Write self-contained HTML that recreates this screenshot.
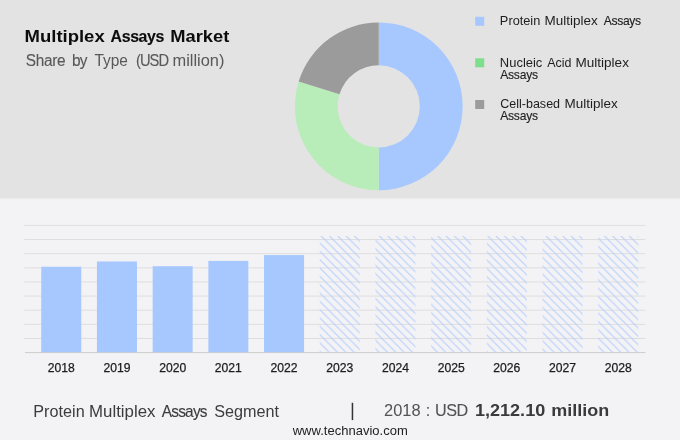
<!DOCTYPE html>
<html><head><meta charset="utf-8"><title>Multiplex Assays Market</title>
<style>
html,body{margin:0;padding:0;}
body{width:680px;height:440px;overflow:hidden;background:#f3f3f5;font-family:"Liberation Sans",sans-serif;position:relative;}
#top{position:absolute;left:0;top:0;width:680px;height:198px;background:#e3e3e3;}
svg{position:absolute;left:0;top:0;will-change:transform;}
svg text{font-family:"Liberation Sans",sans-serif;}
</style></head><body>
<div id="top"></div>
<svg width="680" height="440" viewBox="0 0 680 440">
<defs>
<pattern id="hatch" width="8.33" height="8.33" patternUnits="userSpaceOnUse" patternTransform="translate(321.2,236)">
<path d="M-2.083,-2.083 L10.412,10.412 M-2.083,6.248 L2.083,10.412 M6.248,-2.083 L10.412,2.083" stroke="#b6cefb" stroke-width="1.1" fill="none"/>
</pattern>
</defs>
<rect x="0" y="0" width="680" height="198.5" fill="#e3e3e3"/>
<path d="M378.75,22.45 A83.9,83.9 0 0 1 378.75,190.25 L378.75,147.45 A41.1,41.1 0 0 0 378.75,65.25 Z" fill="#a6c8ff"/>
<path d="M378.75,190.25 A83.9,83.9 0 0 1 298.65,81.40 L339.51,94.13 A41.1,41.1 0 0 0 378.75,147.45 Z" fill="#b8edb9"/>
<path d="M298.65,81.40 A83.9,83.9 0 0 1 378.75,22.45 L378.75,65.25 A41.1,41.1 0 0 0 339.51,94.13 Z" fill="#9b9b9b"/>
<rect x="24.3" y="224.90" width="621.2" height="1" fill="#dedede"/>
<rect x="24.3" y="239.03" width="621.2" height="1" fill="#dedede"/>
<rect x="24.3" y="253.17" width="621.2" height="1" fill="#dedede"/>
<rect x="24.3" y="267.30" width="621.2" height="1" fill="#dedede"/>
<rect x="24.3" y="281.43" width="621.2" height="1" fill="#dedede"/>
<rect x="24.3" y="295.57" width="621.2" height="1" fill="#dedede"/>
<rect x="24.3" y="309.70" width="621.2" height="1" fill="#dedede"/>
<rect x="24.3" y="323.83" width="621.2" height="1" fill="#dedede"/>
<rect x="24.3" y="337.97" width="621.2" height="1" fill="#dedede"/>
<rect x="25" y="352.10" width="620.5" height="1" fill="#cdcdcd"/>
<rect x="41.25" y="266.75" width="40" height="85.45" fill="#a6c8ff"/>
<rect x="96.95" y="261.50" width="40" height="90.70" fill="#a6c8ff"/>
<rect x="152.65" y="266.20" width="40" height="86.00" fill="#a6c8ff"/>
<rect x="208.35" y="260.90" width="40" height="91.30" fill="#a6c8ff"/>
<rect x="264.05" y="255.10" width="40" height="97.10" fill="#a6c8ff"/>
<rect x="319.75" y="236" width="40" height="116.20" fill="url(#hatch)"/>
<rect x="375.45" y="236" width="40" height="116.20" fill="url(#hatch)"/>
<rect x="431.15" y="236" width="40" height="116.20" fill="url(#hatch)"/>
<rect x="486.85" y="236" width="40" height="116.20" fill="url(#hatch)"/>
<rect x="542.55" y="236" width="40" height="116.20" fill="url(#hatch)"/>
<rect x="598.25" y="236" width="40" height="116.20" fill="url(#hatch)"/>
<text x="61.25" y="372.1" text-anchor="middle" font-size="12.15" fill="#1c1c1c" stroke="#1c1c1c" stroke-width="0.25">2018</text>
<text x="116.95" y="372.1" text-anchor="middle" font-size="12.15" fill="#1c1c1c" stroke="#1c1c1c" stroke-width="0.25">2019</text>
<text x="172.65" y="372.1" text-anchor="middle" font-size="12.15" fill="#1c1c1c" stroke="#1c1c1c" stroke-width="0.25">2020</text>
<text x="228.35" y="372.1" text-anchor="middle" font-size="12.15" fill="#1c1c1c" stroke="#1c1c1c" stroke-width="0.25">2021</text>
<text x="284.05" y="372.1" text-anchor="middle" font-size="12.15" fill="#1c1c1c" stroke="#1c1c1c" stroke-width="0.25">2022</text>
<text x="339.75" y="372.1" text-anchor="middle" font-size="12.15" fill="#1c1c1c" stroke="#1c1c1c" stroke-width="0.25">2023</text>
<text x="395.45" y="372.1" text-anchor="middle" font-size="12.15" fill="#1c1c1c" stroke="#1c1c1c" stroke-width="0.25">2024</text>
<text x="451.15" y="372.1" text-anchor="middle" font-size="12.15" fill="#1c1c1c" stroke="#1c1c1c" stroke-width="0.25">2025</text>
<text x="506.85" y="372.1" text-anchor="middle" font-size="12.15" fill="#1c1c1c" stroke="#1c1c1c" stroke-width="0.25">2026</text>
<text x="562.55" y="372.1" text-anchor="middle" font-size="12.15" fill="#1c1c1c" stroke="#1c1c1c" stroke-width="0.25">2027</text>
<text x="618.25" y="372.1" text-anchor="middle" font-size="12.15" fill="#1c1c1c" stroke="#1c1c1c" stroke-width="0.25">2028</text>
<rect x="475.2" y="16.8" width="9" height="9" fill="#a6c8ff"/>
<rect x="475.2" y="58.3" width="9" height="9" fill="#7ddf8c"/>
<rect x="475.2" y="100" width="9" height="9" fill="#9b9b9b"/>
<rect x="351.7" y="402.8" width="1.5" height="17.3" fill="#333"/>
<text transform="matrix(1.1353 0 0 1 24.56 41.5)" font-size="16.3" font-weight="bold" fill="#0c0c0c">Multiplex</text>
<text transform="matrix(0.9750 0 0 1 110.60 41.5)" font-size="16.3" font-weight="bold" letter-spacing="-0.380" stroke="#0c0c0c" stroke-width="0.12" fill="#0c0c0c">Assays</text>
<text transform="matrix(1.1236 0 0 1 170.28 41.5)" font-size="16.3" font-weight="bold" fill="#0c0c0c">Market</text>
<text transform="matrix(0.9750 0 0 1 25.70 66.1)" font-size="15.8" letter-spacing="-0.310" stroke="#585858" stroke-width="0.12" fill="#585858">Share</text>
<text transform="matrix(0.9750 0 0 1 71.93 66.1)" font-size="15.8" letter-spacing="-0.811" stroke="#585858" stroke-width="0.12" fill="#585858">by</text>
<text transform="matrix(0.9779 0 0 1 94.40 66.1)" font-size="15.8" fill="#585858">Type</text>
<text transform="matrix(0.9309 0 0 1 136.00 66.1)" font-size="15.8" letter-spacing="-1.026" stroke="#585858" stroke-width="0.12" fill="#585858">(USD</text>
<text transform="matrix(1.0396 0 0 1 172.46 66.1)" font-size="15.8" fill="#585858">million)</text>
<text transform="matrix(1.0295 0 0 1 499.87 24.6)" font-size="12.4" fill="#1e1e1e">Protein</text>
<text transform="matrix(1.0863 0 0 1 544.51 24.6)" font-size="12.4" fill="#1e1e1e">Multiplex</text>
<text transform="matrix(0.9750 0 0 1 603.70 24.6)" font-size="12.4" letter-spacing="-0.318" stroke="#1e1e1e" stroke-width="0.12" fill="#1e1e1e">Assays</text>
<text transform="matrix(1.0449 0 0 1 499.86 66.5)" font-size="12.4" fill="#1e1e1e">Nucleic</text>
<text transform="matrix(1.0036 0 0 1 547.20 66.5)" font-size="12.4" fill="#1e1e1e">Acid</text>
<text transform="matrix(1.0925 0 0 1 575.51 66.5)" font-size="12.4" fill="#1e1e1e">Multiplex</text>
<text transform="matrix(0.9750 0 0 1 500.20 78.7)" font-size="12.4" letter-spacing="-0.235" stroke="#1e1e1e" stroke-width="0.12" fill="#1e1e1e">Assays</text>
<text transform="matrix(1.0111 0 0 1 500.20 108.1)" font-size="12.4" fill="#1e1e1e">Cell-based</text>
<text transform="matrix(1.0863 0 0 1 564.51 108.1)" font-size="12.4" fill="#1e1e1e">Multiplex</text>
<text transform="matrix(0.9750 0 0 1 500.20 120.3)" font-size="12.4" letter-spacing="-0.235" stroke="#1e1e1e" stroke-width="0.12" fill="#1e1e1e">Assays</text>
<text transform="matrix(1.0144 0 0 1 33.29 416.5)" font-size="16.0" fill="#3c3c3c">Protein</text>
<text transform="matrix(1.0526 0 0 1 89.05 416.5)" font-size="16.0" fill="#3c3c3c">Multiplex</text>
<text transform="matrix(0.9650 0 0 1 161.70 416.5)" font-size="16.0" letter-spacing="-0.802" stroke="#3c3c3c" stroke-width="0.12" fill="#3c3c3c">Assays</text>
<text transform="matrix(1.0125 0 0 1 214.30 416.5)" font-size="16.0" fill="#3c3c3c">Segment</text>
<text transform="matrix(0.9895 0 0 1 384.00 416.4)" font-size="16.6" fill="#525252">2018</text>
<text transform="matrix(0.9667 0 0 1 425.63 416.4)" font-size="16.6" fill="#525252">:</text>
<text transform="matrix(0.9750 0 0 1 435.02 416.4)" font-size="16.6" letter-spacing="-0.564" stroke="#525252" stroke-width="0.12" fill="#525252">USD</text>
<text transform="matrix(1.0889 0 0 1 474.91 416.4)" font-size="16.6" font-weight="bold" fill="#3a3a3a">1,212.10</text>
<text transform="matrix(1.0835 0 0 1 551.22 416.4)" font-size="16.6" font-weight="bold" fill="#3a3a3a">million</text>
<text transform="matrix(0.9868 0 0 1 292.69 434.5)" font-size="13.2" fill="#222">www.technavio.com</text>
</svg>
</body></html>
